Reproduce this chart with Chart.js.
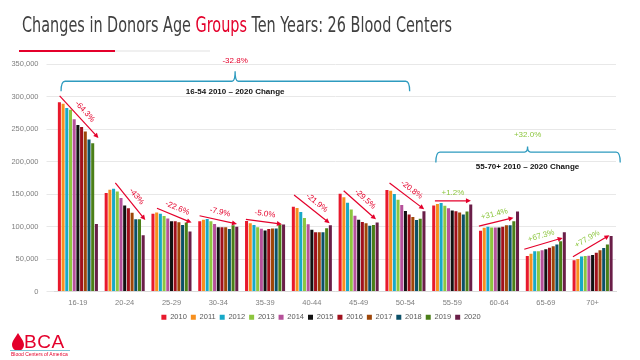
<!DOCTYPE html>
<html>
<head>
<meta charset="utf-8">
<script src="https://cdn.jsdelivr.net/npm/chart.js@4/dist/chart.umd.min.js"></script>
<style>
  html, body { margin: 0; padding: 0; background: #fff; }
  #wrap { position: relative; width: 640px; height: 360px; overflow: hidden; }
  #c { position: absolute; left: 0; top: 0; }
  #title {
    position: absolute; left: 22px; top: 15px; white-space: nowrap;
    font-family: 'Liberation Sans Narrow', 'DejaVu Sans Condensed', sans-serif;
    font-size: 21px; line-height: 21px; color: #404040; transform-origin: 0 0;
  }
  #title .red { color: #e4002b; }
  #rule1 { position: absolute; left: 19px; top: 50px; width: 96px; height: 2px; background: #e4002b; }
  #rule2 { position: absolute; left: 115px; top: 50px; width: 95px; height: 2px; background: #f0f0f0; }
  #logo { position: absolute; left: 10px; top: 330px; width: 70px; height: 30px; }
  #logo .bca {
    position: absolute; left: 14px; top: 2px; font-family: 'Liberation Sans', Arial, sans-serif;
    font-size: 19px; line-height: 19px; color: #e4002b; letter-spacing: 0.5px;
  }
  #logo .sub {
    position: absolute; left: 1px; top: 22px; font-family: 'Liberation Sans', Arial, sans-serif;
    font-size: 5px; line-height: 5px; color: #e4002b; white-space: nowrap;
  }
</style>
</head>
<body>
<div id="wrap">
  <canvas id="c" width="640" height="360"></canvas>
  <div id="title">Changes in Donors Age <span class="red">Groups</span> Ten Years: 26 Blood Centers</div>
  <div id="rule1"></div><div id="rule2"></div>
  <div id="logo">
    <svg width="16" height="22" style="position:absolute;left:1px;top:2px">
      <path d="M7 1 C4 6, 1 9, 1 13 A6 6 0 0 0 13 13 C13 9, 10 6, 7 1 Z" fill="#e4002b"/>
    </svg>
    <div class="bca">BCA</div>
    <div style="position:absolute;left:0;top:20px;width:60px;height:1px;background:#7fc6d6"></div>
    <div class="sub">Blood Centers of America</div>
  </div>
</div>
<script>
// categories and series
const ageGroups = ['16-19', '20-24', '25-29', '30-34', '35-39', '40-44', '45-49', '50-54', '55-59', '60-64', '65-69', '70+'];
const years = ['2010', '2011', '2012', '2013', '2014', '2015', '2016', '2017', '2018', '2019', '2020'];
const yearColors = ['#e8192c', '#f7901e', '#17a9c8', '#8dc63f', '#b5519a', '#111111', '#a0101c', '#9e4608', '#0b5068', '#4b7f18', '#6a1e48'];

const d2010 = [291000, 151500, 119500, 108000, 108500, 130500, 150500, 156000, 132500, 93500, 54500, 48000];
const d2011 = [289000, 156500, 121500, 110500, 105000, 128500, 145000, 155000, 134500, 98000, 58000, 50000];
const d2012 = [282500, 158000, 119500, 111500, 102500, 122500, 136500, 150000, 136000, 99500, 62000, 54000];
const d2013 = [279500, 154000, 116000, 108000, 99000, 113000, 126000, 141000, 132000, 98500, 62000, 54500];
const d2014 = [265000, 144000, 112500, 104000, 96500, 103500, 116500, 133000, 128000, 98500, 63500, 55000];
const d2015 = [256000, 132500, 108000, 99000, 94000, 95000, 110500, 124000, 124500, 98500, 65000, 56000];
const d2016 = [253000, 128000, 108000, 99000, 96000, 91000, 107000, 118500, 123500, 99500, 67500, 59500];
const d2017 = [246000, 121000, 106500, 99000, 97000, 91000, 105000, 114500, 121500, 102000, 69500, 63500];
const d2018 = [234000, 111000, 102500, 96000, 97000, 91000, 101000, 110000, 118500, 102000, 72500, 67000];
const d2019 = [228000, 111000, 106000, 102000, 103000, 97500, 102500, 112000, 123000, 108000, 77500, 72500];
const d2020 = [104000, 86500, 92500, 99500, 103000, 102000, 106000, 123500, 134000, 123000, 91000, 85500];
const seriesData = [d2010, d2011, d2012, d2013, d2014, d2015, d2016, d2017, d2018, d2019, d2020];

const yTicks = [0, 50000, 100000, 150000, 200000, 250000, 300000, 350000];

// trend arrows: category, start/end offset (in categories), start/end value, label
const trendGroup = [0, 1, 2, 3, 4, 5, 6, 7, 8, 9, 10, 11];
const trendFrom = [-0.39, -0.2, -0.31, -0.4, -0.41, -0.38, -0.32, -0.34, -0.37, -0.43, -0.46, -0.42];
const trendTo = [0.44, 0.44, 0.43, 0.4, 0.36, 0.38, 0.37, 0.4, 0.4, 0.31, 0.36, 0.36];
const trendStart = [301000, 167000, 128000, 116500, 111000, 148500, 155000, 167000, 139500, 100500, 65000, 53500];
const trendEnd = [236000, 110000, 106000, 104000, 103500, 105000, 111000, 126500, 139500, 113500, 82500, 86500];
const trendLabels = ['-64.3%', '-43%', '-22.6%', '-7.9%', '-5.0%', '-21.9%', '-29.5%', '-20.8%', '+1.2%', '+31.4%', '+67.3%', '+77.9%'];

// brackets over the two age ranges
const brackets = [
  { from: -0.36, to: 7.09, mid: 3.36, line: 323500, end: 308000, notch: 339000, top: 355000, sub: 308000,
    pct: '-32.8%', pctColor: '#e4002b', text: '16-54 2010 \u2013 2020 Change' },
  { from: 7.65, to: 11.59, mid: 9.61, line: 214500, end: 198500, notch: 223000, top: 241000, sub: 192000,
    pct: '+32.0%', pctColor: '#8cc63e', text: '55-70+ 2010 \u2013 2020 Change' }
];

const RED = '#e4002b';
const GREEN = '#8cc63e';
const TEAL = '#2e9bbf';

// fit the title to its width in the picture
(function () {
  const t = document.getElementById('title');
  const w = t.getBoundingClientRect().width;
  t.style.transform = 'scaleX(' + (430 / w) + ')';
})();

const annotations = {
  id: 'annotations',
  afterDatasetsDraw(chart) {
    const ctx = chart.ctx;
    const xs = chart.scales.x, ys = chart.scales.y;
    const x0 = xs.getPixelForValue(0);
    const step = xs.getPixelForValue(1) - x0;
    const px = i => x0 + i * step;
    const py = v => ys.getPixelForValue(v);

    ctx.save();
    // arrows with percentage labels
    trendGroup.forEach((g, k) => {
      const x1 = px(g + trendFrom[k]), y1 = py(trendStart[k]);
      const x2 = px(g + trendTo[k]), y2 = py(trendEnd[k]);
      const dx = x2 - x1, dy = y2 - y1, len = Math.hypot(dx, dy);
      const ux = dx / len, uy = dy / len;
      ctx.strokeStyle = RED;
      ctx.fillStyle = RED;
      ctx.lineWidth = 1.2;
      ctx.beginPath();
      ctx.moveTo(x1, y1);
      ctx.lineTo(x2 - ux * 4, y2 - uy * 4);
      ctx.stroke();
      ctx.beginPath();
      ctx.moveTo(x2, y2);
      ctx.lineTo(x2 - ux * 5 - uy * 2.5, y2 - uy * 5 + ux * 2.5);
      ctx.lineTo(x2 - ux * 5 + uy * 2.5, y2 - uy * 5 - ux * 2.5);
      ctx.closePath();
      ctx.fill();

      const mx = (x1 + x2) / 2 + uy * 8, my = (y1 + y2) / 2 - ux * 8;
      ctx.save();
      ctx.translate(mx, my);
      ctx.rotate(Math.atan2(dy, dx));
      ctx.font = '8px "Liberation Sans", Arial, sans-serif';
      ctx.fillStyle = trendLabels[k].startsWith('+') ? GREEN : RED;
      ctx.textAlign = 'center';
      ctx.textBaseline = 'middle';
      ctx.fillText(trendLabels[k], 0, 0);
      ctx.restore();
    });

    // brackets
    brackets.forEach(b => {
      const xa = px(b.from), xb = px(b.to), xm = px(b.mid);
      const yl = py(b.line), ye = py(b.end), yn = py(b.notch);
      ctx.strokeStyle = TEAL;
      ctx.lineWidth = 1.3;
      ctx.beginPath();
      ctx.moveTo(xa, ye);
      ctx.quadraticCurveTo(xa, yl, xa + 4, yl);
      ctx.lineTo(xm - 3, yl);
      ctx.quadraticCurveTo(xm, yl, xm, yn);
      ctx.quadraticCurveTo(xm, yl, xm + 3, yl);
      ctx.lineTo(xb - 4, yl);
      ctx.quadraticCurveTo(xb, yl, xb, ye);
      ctx.stroke();

      ctx.textAlign = 'center';
      ctx.textBaseline = 'middle';
      ctx.font = '8px "Liberation Sans", Arial, sans-serif';
      ctx.fillStyle = b.pctColor;
      ctx.fillText(b.pct, xm, py(b.top));
      ctx.font = 'bold 8px "Liberation Sans", Arial, sans-serif';
      ctx.fillStyle = '#111';
      ctx.fillText(b.text, xm, py(b.sub));
    });
    ctx.restore();
  }
};

new Chart(document.getElementById('c'), {
  type: 'bar',
  data: {
    labels: ageGroups,
    datasets: years.map((y, i) => ({
      label: y,
      data: seriesData[i],
      backgroundColor: yearColors[i],
      borderWidth: 0,
      categoryPercentage: 0.87,
      barPercentage: 0.82
    }))
  },
  options: {
    responsive: false,
    animation: false,
    layout: { padding: { left: 8, top: 64, right: 6, bottom: 29 } },
    plugins: {
      legend: {
        position: 'bottom',
        labels: {
          boxWidth: 5,
          boxHeight: 5,
          padding: 4,
          color: '#595959',
          font: { family: '"Liberation Sans", Arial, sans-serif', size: 7.5 }
        }
      },
      tooltip: { enabled: false }
    },
    scales: {
      x: {
        grid: { display: false, drawTicks: false },
        border: { color: '#d9d9d9' },
        ticks: {
          color: '#7f7f7f',
          padding: 7,
          font: { family: '"Liberation Sans", Arial, sans-serif', size: 7.5 }
        },
        afterFit: s => { s.height = 18; }
      },
      y: {
        min: 0,
        max: 350000,
        afterBuildTicks: s => { s.ticks = yTicks.map(v => ({ value: v })); },
        grid: { color: '#e8e8e8' },
        border: { display: false },
        ticks: {
          color: '#7f7f7f',
          padding: 8,
          font: { family: '"Liberation Sans", Arial, sans-serif', size: 7.5 },
          callback: v => v.toLocaleString('en-US')
        },
        afterFit: s => { s.width = 46.5; }
      },
      // empty right-hand gutter so the legend centres on the page
      gutter: {
        position: 'right',
        display: true,
        grid: { display: false, drawTicks: false },
        border: { display: false },
        ticks: { display: false },
        afterFit: s => { s.width = 18; }
      }
    }
  },
  plugins: [annotations]
});
</script>
</body>
</html>
